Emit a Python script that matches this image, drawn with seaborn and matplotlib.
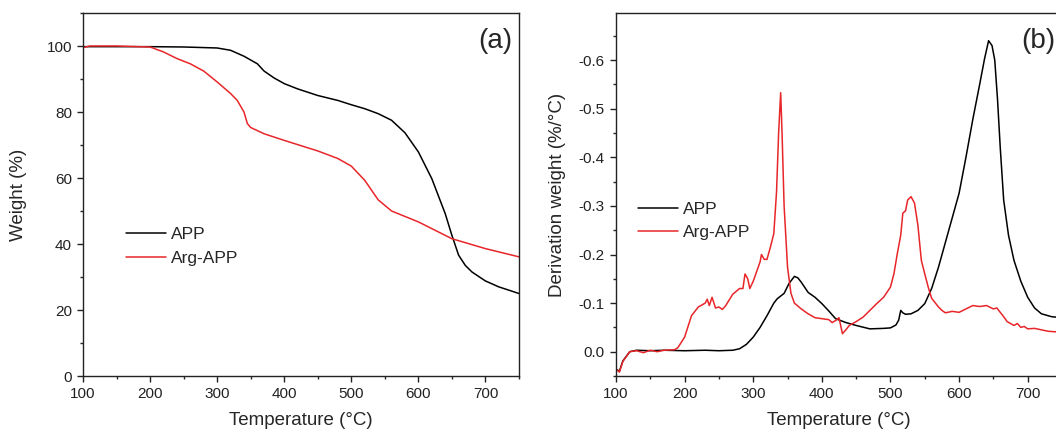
import numpy as np
import pandas as pd
import matplotlib
matplotlib.use("Agg")
import matplotlib.pyplot as plt
import seaborn as sns
from matplotlib.ticker import MultipleLocator

# ---- Data ----
tga_app_T = [100, 150, 200, 250, 300, 320, 340, 360, 370, 385, 400, 420, 450, 480, 500, 520, 540,
             560, 580, 600, 620, 640, 650, 660, 670, 680, 700, 720, 750]
tga_app_W = [99.8, 99.8, 99.8, 99.7, 99.4, 98.7, 96.9, 94.6, 92.4, 90.3, 88.6, 87.0, 85.0, 83.5, 82.2,
             81.0, 79.5, 77.5, 73.7, 67.9, 59.8, 49.2, 42.6, 36.6, 33.5, 31.5, 28.8, 27.0, 25.0]

tga_arg_T = [100, 110, 150, 200, 220, 240, 260, 280, 300, 320, 330, 340, 345, 350, 370, 400, 450,
             480, 500, 520, 540, 560, 600, 650, 700, 750]
tga_arg_W = [99.5, 100.0, 100.0, 99.7, 98.2, 96.2, 94.6, 92.4, 89.1, 85.6, 83.5, 80.0, 76.5, 75.3,
             73.4, 71.4, 68.2, 65.9, 63.6, 59.3, 53.4, 50.0, 46.7, 41.6, 38.6, 36.1]

dtg_app_T = [100, 105, 110, 120, 130, 150, 170, 200, 230, 250, 270, 280, 290, 300, 310, 320, 330,
             335, 345, 352, 360, 365, 370, 380, 390, 400, 410, 420, 435, 450, 470, 490, 500, 508,
             512, 515, 518, 522, 530, 540, 550, 560, 570, 585, 600, 610, 620, 630, 637, 643, 648,
             652, 656, 660, 665, 672, 680, 690, 700, 710, 720, 735, 750]
dtg_app_V = [0.036, 0.04, 0.019, 0.0, -0.003, -0.002, -0.003, -0.002, -0.003, -0.002, -0.003,
             -0.006, -0.015, -0.03, -0.05, -0.074, -0.1, -0.109, -0.12, -0.14, -0.155, -0.152,
             -0.143, -0.122, -0.112, -0.099, -0.084, -0.068, -0.06, -0.054, -0.047, -0.048, -0.049,
             -0.055, -0.065, -0.085, -0.08, -0.077, -0.078, -0.085, -0.099, -0.13, -0.174, -0.25,
             -0.326, -0.4, -0.478, -0.55, -0.602, -0.64, -0.63, -0.6, -0.52, -0.42, -0.312, -0.24,
             -0.188, -0.145, -0.112, -0.09, -0.078, -0.072, -0.07]

dtg_arg_T = [100, 105, 110, 120, 130, 140, 150, 160, 170, 185, 190, 200, 210, 220, 230, 233, 236,
             240, 245, 250, 255, 260, 270, 280, 285, 288, 292, 295, 300, 305, 310, 312, 316, 320,
             325, 330, 334, 337, 340, 342, 345, 350, 355, 360, 370, 380, 390, 400, 410, 415, 420,
             425, 430, 435, 440, 450, 460, 470, 480, 490, 500, 505, 510, 515, 518, 522, 525, 530,
             535, 540, 545, 550, 555, 560, 570, 575, 580, 590, 600, 610, 620, 630, 640, 650, 655,
             660, 665, 670, 675, 680, 685, 690, 695, 700, 710, 720, 730, 740, 750]
dtg_arg_V = [0.036, 0.042, 0.02, 0.0, -0.002, 0.002, -0.003, 0.0, -0.003, -0.004, -0.008, -0.03,
             -0.074, -0.092, -0.1, -0.108, -0.095, -0.112, -0.09, -0.092, -0.087, -0.095, -0.118,
             -0.13, -0.13, -0.16, -0.15, -0.13, -0.145, -0.165, -0.185, -0.2, -0.19, -0.19, -0.215,
             -0.243, -0.33, -0.45, -0.533, -0.45, -0.3, -0.174, -0.12, -0.1, -0.088, -0.078, -0.07,
             -0.068, -0.066, -0.06, -0.064, -0.07, -0.037, -0.045, -0.054, -0.062, -0.071, -0.085,
             -0.099, -0.112, -0.133, -0.16, -0.202, -0.24, -0.285, -0.29, -0.312, -0.319, -0.306,
             -0.26, -0.188, -0.16, -0.133, -0.11, -0.092, -0.085, -0.08, -0.083, -0.081, -0.088,
             -0.095, -0.093, -0.095, -0.088, -0.09, -0.081, -0.072, -0.062, -0.058, -0.054, -0.058,
             -0.05, -0.052, -0.047, -0.048, -0.045, -0.042, -0.041, -0.04]

series_names = ["APP", "Arg-APP"]
panel_labels = ["(a)", "(b)"]

sns.set_theme(style="ticks")
plt.rcParams['font.family'] = ['Liberation Sans', 'DejaVu Sans']

fig = plt.figure(figsize=(10.56, 4.33), dpi=100)
axA = fig.add_axes([83/1056, 1-376/433, (519-83)/1056, (376-13)/433])
axB = fig.add_axes([616/1056, 1-376/433, (1062-616)/1056, (376-13)/433])

palette = {"APP": "black", "Arg-APP": "#e8262a"}

dfA = pd.concat([
    pd.DataFrame({"T": tga_app_T, "v": tga_app_W, "s": series_names[0]}),
    pd.DataFrame({"T": tga_arg_T, "v": tga_arg_W, "s": series_names[1]}),
])
dfB = pd.concat([
    pd.DataFrame({"T": dtg_app_T, "v": dtg_app_V, "s": series_names[0]}),
    pd.DataFrame({"T": dtg_arg_T, "v": dtg_arg_V, "s": series_names[1]}),
])

for ax, df in [(axA, dfA), (axB, dfB)]:
    sns.lineplot(data=df, x="T", y="v", hue="s", palette=palette, ax=ax,
                 linewidth=1.1, sort=False, estimator=None)

axA.set_xlim(100, 750)
axA.set_ylim(0, 110)
axA.yaxis.set_major_locator(MultipleLocator(20))
axA.yaxis.set_minor_locator(MultipleLocator(10))
axA.set_ylabel("Weight (%)", fontsize=13.5, labelpad=14)

axB.set_xlim(100, 750)
axB.set_ylim(0.05, -0.697)
axB.yaxis.set_major_locator(MultipleLocator(0.1))
axB.yaxis.set_minor_locator(MultipleLocator(0.05))
axB.yaxis.set_major_formatter(matplotlib.ticker.FuncFormatter(lambda v, p: f"{v:.1f}" if abs(v) > 1e-9 else "0.0"))
axB.set_ylabel("Derivation weight (%/°C)", fontsize=13.5, labelpad=9)

for ax, lab in zip([axA, axB], panel_labels):
    ax.xaxis.set_major_locator(MultipleLocator(100))
    ax.xaxis.set_minor_locator(MultipleLocator(50))
    ax.set_xlabel("Temperature (°C)", fontsize=13.5, labelpad=8)
    ax.tick_params(axis="both", which="major", direction="out", length=4, width=1,
                   labelsize=11, colors="#222222", pad=4)
    ax.tick_params(axis="both", which="minor", direction="out", length=2.5, width=1)
    for sp in ax.spines.values():
        sp.set_linewidth(1.0)
        sp.set_color("#222222")
    ax.text(0.985, 0.96, lab, transform=ax.transAxes, ha="right", va="top", fontsize=20)

legA = axA.legend(title=None, frameon=False, loc="upper left",
                  bbox_to_anchor=(0.082, 0.43), fontsize=12.5, handlelength=2.3,
                  handletextpad=0.3, labelspacing=0.5, borderaxespad=0)
legB = axB.legend(title=None, frameon=False, loc="upper left",
                  bbox_to_anchor=(0.034, 0.5), fontsize=12.5, handlelength=2.3,
                  handletextpad=0.3, labelspacing=0.5, borderaxespad=0)

fig.savefig("out.png", dpi=100)
